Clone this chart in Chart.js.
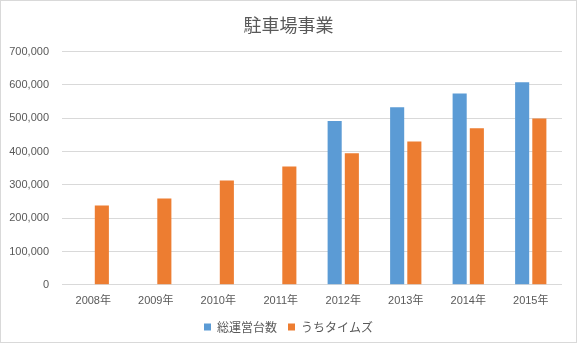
<!DOCTYPE html>
<html>
<head>
<meta charset="utf-8">
<script src="https://cdn.jsdelivr.net/npm/chart.js@4/dist/chart.umd.min.js"></script>
<style>
  html, body { margin: 0; padding: 0; background: #fff; }
  #frame { position: relative; width: 577px; height: 343px; box-sizing: border-box; border: 1px solid #d9d9d9; overflow: hidden; }
  #chart { position: absolute; left: -1px; top: -1px; }
</style>
</head>
<body>
<div id="frame"><canvas id="chart" width="577" height="343"></canvas></div>
<script>
// 駐車場事業: 年度別の台数
const years = ['2008年', '2009年', '2010年', '2011年', '2012年', '2013年', '2014年', '2015年'];
const totalSpaces = [null, null, null, null, 492000, 533000, 574000, 608000];
const timesSpaces = [238000, 259000, 313000, 355000, 395000, 430000, 470000, 499000];
const seriesNames = ['総運営台数', 'うちタイムズ'];
const yTicks = [0, 100000, 200000, 300000, 400000, 500000, 600000, 700000];

const textColor = '#595959';
const gridColor = '#d9d9d9';
const latinFont = '"Liberation Sans", "Noto Sans CJK JP", sans-serif';
const cjkFont = '"Noto Sans CJK JP", "Liberation Sans", sans-serif';

new Chart(document.getElementById('chart'), {
  type: 'bar',
  data: {
    labels: years,
    datasets: [
      { label: seriesNames[0], data: totalSpaces, backgroundColor: '#5b9bd5', borderWidth: 0 },
      { label: seriesNames[1], data: timesSpaces, backgroundColor: '#ed7d31', borderWidth: 0 }
    ]
  },
  options: {
    responsive: false,
    animation: false,
    layout: { padding: { left: 0, right: 0, top: 0, bottom: 0 } },
    datasets: { bar: { categoryPercentage: 0.55, barPercentage: 0.82 } },
    plugins: {
      title: {
        display: true,
        text: '駐車場事業',
        color: textColor,
        font: { family: cjkFont, size: 18, weight: 'normal' },
        padding: { top: 14, bottom: 16 }
      },
      legend: {
        position: 'bottom',
        labels: {
          color: textColor,
          font: { family: cjkFont, size: 12 },
          boxWidth: 7,
          boxHeight: 7,
          padding: 11
        }
      },
      tooltip: { enabled: false }
    },
    scales: {
      x: {
        grid: { display: false },
        border: { display: false },
        ticks: { color: textColor, font: { family: latinFont, size: 11 }, padding: 2, maxRotation: 0 }
      },
      y: {
        min: 0,
        max: 700000,
        afterFit: (scale) => { scale.width = 62; },
        afterBuildTicks: (scale) => { scale.ticks = yTicks.map(v => ({ value: v })); },
        border: { display: false },
        grid: { color: gridColor, drawTicks: false },
        ticks: {
          color: textColor,
          font: { family: latinFont, size: 11 },
          padding: 13,
          callback: (v) => Number(v).toLocaleString('en-US')
        }
      },
      // empty right margin so the plot ends short of the frame
      spacer: {
        type: 'linear',
        position: 'right',
        display: true,
        afterFit: (scale) => { scale.width = 15; },
        grid: { display: false },
        border: { display: false },
        ticks: { display: false }
      }
    }
  }
});
</script>
</body>
</html>
